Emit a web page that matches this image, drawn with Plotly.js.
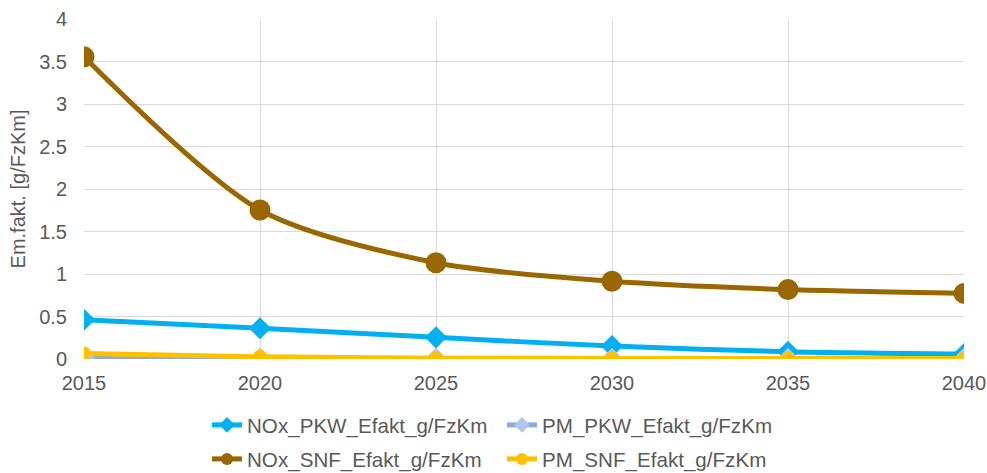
<!DOCTYPE html>
<html><head><meta charset="utf-8">
<script src="https://cdn.plot.ly/plotly-3.0.1.min.js"></script>
<style>html,body{margin:0;padding:0;background:#fff}#chart{width:987px;height:473px}</style>
</head><body><div id="chart"></div>
<script>
const years = [2015, 2020, 2025, 2030, 2035, 2040];
const noxPKW = [0.462, 0.362, 0.255, 0.152, 0.085, 0.058];
const pmPKW  = [0.006, 0.004, 0.003, 0.002, 0.002, 0.002];
const noxSNF = [3.555, 1.753, 1.132, 0.915, 0.817, 0.772];
const pmSNF  = [0.065, 0.027, 0.010, 0.007, 0.006, 0.005];
const names = ['NOx_PKW_Efakt_g/FzKm','PM_PKW_Efakt_g/FzKm','NOx_SNF_Efakt_g/FzKm','PM_SNF_Efakt_g/FzKm'];

const font = {family:'Liberation Sans, Arial, sans-serif', size:20, color:'#595959'};
const legFont = {family:'Liberation Sans, Arial, sans-serif', size:20.6, color:'#595959'};
function tr(y, name, lc, mc, sym, size, legend){
  return {x:years, y:y, name:name, type:'scatter', mode:'lines+markers',
    line:{color:lc, width:5, shape:'spline', smoothing:0.8},
    marker:{color:mc, symbol:sym, size:size}, legend:legend};
}
const data = [
  tr(noxPKW, names[0], '#00B0F0', '#00B0F0', 'diamond', 17, 'legend'),
  tr(pmPKW,  names[1], '#8EA9DB', '#B4C6E7', 'diamond', 17, 'legend'),
  tr(noxSNF, names[2], '#996600', '#996600', 'circle', 21, 'legend2'),
  tr(pmSNF,  names[3], '#FFC000', '#FFC000', 'circle', 14, 'legend2')
];
const legBase = {orientation:'h', xref:'container', yref:'container', x:207/987, xanchor:'left', yanchor:'middle', font:legFont, bgcolor:'rgba(0,0,0,0)', itemwidth:30, itemsizing:'constant', tracegroupgap:0, entrywidth:250, entrywidthmode:'pixels'};
const layout = {
  width:987, height:473,
  margin:{l:84, r:23, t:19, b:114},
  paper_bgcolor:'#fff', plot_bgcolor:'#fff',
  font:font,
  showlegend:true,
  xaxis:{range:[2015,2040], tickvals:years, ticktext:years.map(String), showgrid:true, gridcolor:'#D9D9D9', gridwidth:1.3, zeroline:false, showline:false, ticks:'', tickfont:font, ticklabelstandoff:10},
  yaxis:{range:[0,4], dtick:0.5, showgrid:true, gridcolor:'#D9D9D9', gridwidth:1.3, zeroline:false, showline:false, ticks:'', tickfont:font, ticklabelstandoff:16,
    title:{text:'Em.fakt. [g/FzKm]', font:font, standoff:8}},
  legend:Object.assign({}, legBase, {y:1-425/473}),
  legend2:Object.assign({}, legBase, {y:1-459/473})
};
Plotly.newPlot('chart', data, layout, {displayModeBar:false});
</script></body></html>
